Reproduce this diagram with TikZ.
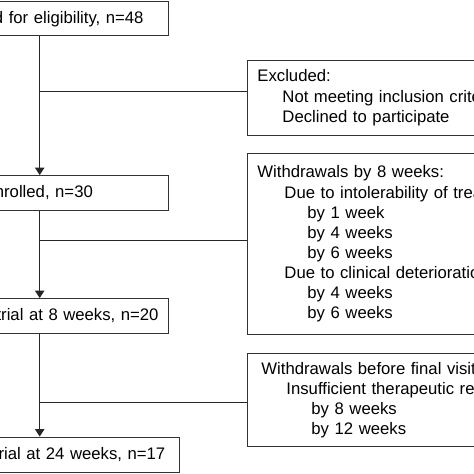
\documentclass[tikz,border=0pt]{standalone}
\usepackage{fontspec}
\setmainfont{Liberation Sans}
\usetikzlibrary{arrows.meta}
\newcommand{\ind}[1]{\hspace*{#1pt}}

\begin{document}
\begin{tikzpicture}[x=1pt,y=-1pt,
  every node/.style={font=\fontsize{16.7}{20.1}\selectfont},
  lbox/.style={draw=black!80,line width=0.9pt,anchor=east,text width=240pt,align=right,minimum height=35pt},
  rbox/.style={draw=black!80,line width=0.9pt,anchor=north west,text width=300pt,align=left,inner xsep=10pt,inner ysep=0pt},
  conn/.style={draw=black!85,line width=0.9pt},
  arr/.style={conn,-{Triangle[length=7.5pt,width=9.5pt]}}]

\useasboundingbox (0,0) rectangle (474,474);
\clip (0,0) rectangle (474,474);

% left column
\node[lbox,inner xsep=25pt,minimum height=34pt] (elig) at (169,18.9) {d for eligibility, n=48};
\node[lbox,inner xsep=75.7pt] (enrol) at (169,193) {hrolled, n=30};
\node[lbox,inner xsep=10pt] (wk8) at (169,316) {trial at 8 weeks, n=20};
\node[lbox,inner xsep=14.3pt] (wk24) at (180,454.5) {trial at 24 weeks, n=17};

% right column
\node[rbox,minimum height=75.5pt] (excl) at (247,59.5)
  {Excluded:\\ \ind{25}Not meeting inclusion criteria\\ \ind{25}Declined to participate};
\node[rbox,minimum height=181.5pt] (wd8) at (247,152.8)
  {Withdrawals by 8 weeks:\\ \ind{27}Due to intolerability of treatment\\
   \ind{50}by 1 week\\ \ind{50}by 4 weeks\\ \ind{50}by 6 weeks\\
   \ind{27}Due to clinical deterioration\\ \ind{50}by 4 weeks\\ \ind{50}by 6 weeks};
\node[rbox,minimum height=92.4pt] (wfin) at (247,353.3)
  {\ind{4}Withdrawals before final visit\\ \ind{29}Insufficient therapeutic re\\
   \ind{54}by 8 weeks\\ \ind{54}by 12 weeks};

% trunk and branches
\coordinate (trunk) at (39.7,0);
\coordinate (b1) at (39.7,91.7);
\coordinate (b2) at (39.7,240);
\coordinate (b3) at (39.7,402);

\draw[arr] (elig.south -| trunk) -- (enrol.north -| trunk);
\draw[arr] (enrol.south -| trunk) -- (wk8.north -| trunk);
\draw[arr] (wk8.south -| trunk) -- (wk24.north -| trunk);
\draw[conn] (b1) -- (b1 -| excl.west);
\draw[conn] (b2) -- (b2 -| wd8.west);
\draw[conn] (b3) -- (b3 -| wfin.west);

\end{tikzpicture}
\end{document}
